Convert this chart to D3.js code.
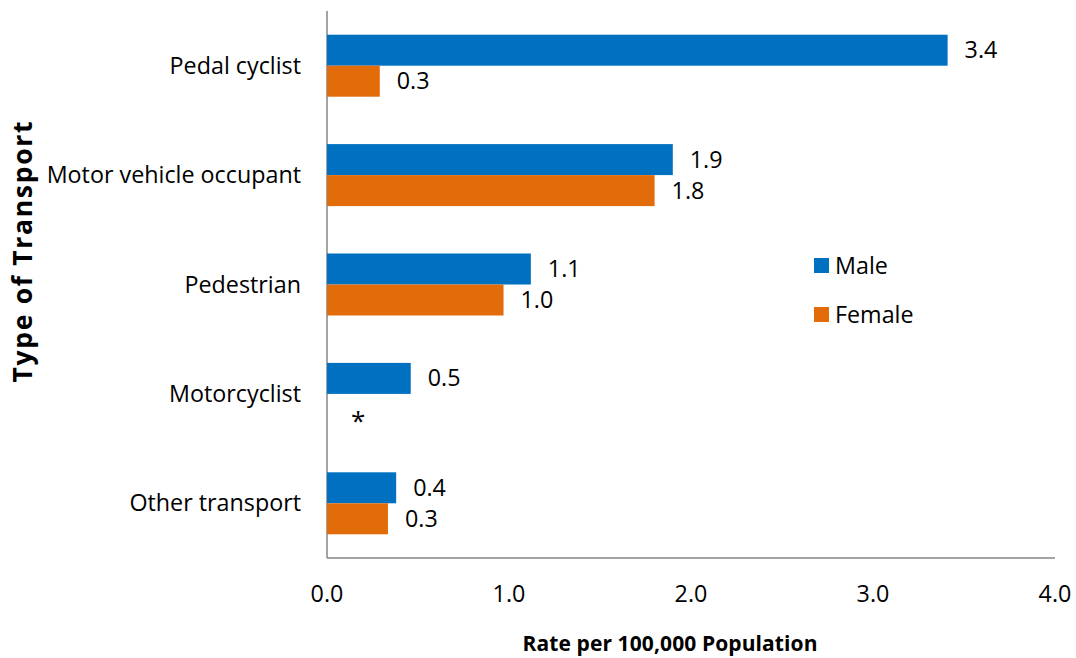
<!DOCTYPE html>
<html><head><meta charset="utf-8">
<script src="https://cdn.jsdelivr.net/npm/d3@7"></script>
<style>body{margin:0;background:#fff}svg{display:block}text{font-family:"Open Sans",sans-serif;fill:#000}</style>
</head><body><svg id="c" width="1076" height="658"></svg>
<script>
const categories = ["Pedal cyclist","Motor vehicle occupant","Pedestrian","Motorcyclist","Other transport"];
const seriesNames = ["Male","Female"];
const maleValues = [3.41, 1.90, 1.12, 0.46, 0.38];
const femaleValues = [0.29, 1.80, 0.97, null, 0.335];
const xTicks = [0, 1, 2, 3, 4];
const colors = ["#0070C0", "#E36C0A"];

const svg = d3.select("#c");
const FS = 23.3;
const x = d3.scaleLinear().domain([0, 4]).range([327, 1055]);
const y = d3.scaleBand().domain(categories).range([11, 558]);
const inner = d3.scaleBand().domain(seriesNames).range([-31, 31]);

svg.append("line").attr("x1", 327).attr("x2", 327).attr("y1", 11).attr("y2", 558)
  .attr("stroke", "#868686").attr("stroke-width", 1.5);
svg.append("line").attr("x1", 327).attr("x2", 1055).attr("y1", 558).attr("y2", 558)
  .attr("stroke", "#868686").attr("stroke-width", 1.5);

svg.selectAll(".xt").data(xTicks).enter().append("text")
  .attr("x", d => x(d)).attr("y", 602).attr("text-anchor", "middle")
  .attr("font-size", FS).text(d => d.toFixed(1));

svg.selectAll(".cat").data(categories).enter().append("text")
  .attr("x", 301).attr("y", d => y(d) + y.bandwidth() / 2 + 8)
  .attr("text-anchor", "end").attr("font-size", FS).text(d => d);

const series = [maleValues, femaleValues];
series.forEach((vals, si) => {
  const data = categories.map((c, i) => ({c, v: vals[i]}));
  const g = svg.append("g");
  const cy = d => y(d.c) + y.bandwidth() / 2 + inner(seriesNames[si]);
  g.selectAll("rect").data(data.filter(d => d.v != null)).enter().append("rect")
    .attr("x", x(0)).attr("y", cy).attr("width", d => x(d.v) - x(0))
    .attr("height", inner.bandwidth()).attr("fill", colors[si]);
  g.selectAll("text").data(data).enter().append("text")
    .attr("x", d => d.v != null ? x(d.v) + 17 : x(0) + 24)
    .attr("y", d => cy(d) + inner.bandwidth() / 2 + (d.v != null ? 8 : 21))
    .attr("font-size", d => d.v != null ? FS : 26)
    .text(d => d.v != null ? d.v.toFixed(1) : "*");
});

seriesNames.forEach((s, i) => {
  svg.append("rect").attr("x", 814).attr("y", 258 + i * 49).attr("width", 15).attr("height", 15).attr("fill", colors[i]);
  svg.append("text").attr("x", 835).attr("y", 274 + i * 49).attr("font-size", FS).text(s);
});

svg.append("text").attr("x", 670).attr("y", 651).attr("text-anchor", "middle")
  .attr("font-size", 21).attr("font-weight", "bold")
  .attr("textLength", 295).attr("lengthAdjust", "spacing").text("Rate per 100,000 Population");
svg.append("text").attr("transform", "translate(32,252) rotate(-90)").attr("text-anchor", "middle")
  .attr("font-size", 26.5).attr("font-weight", "bold")
  .attr("textLength", 261).attr("lengthAdjust", "spacing").text("Type of Transport");
</script></body></html>
